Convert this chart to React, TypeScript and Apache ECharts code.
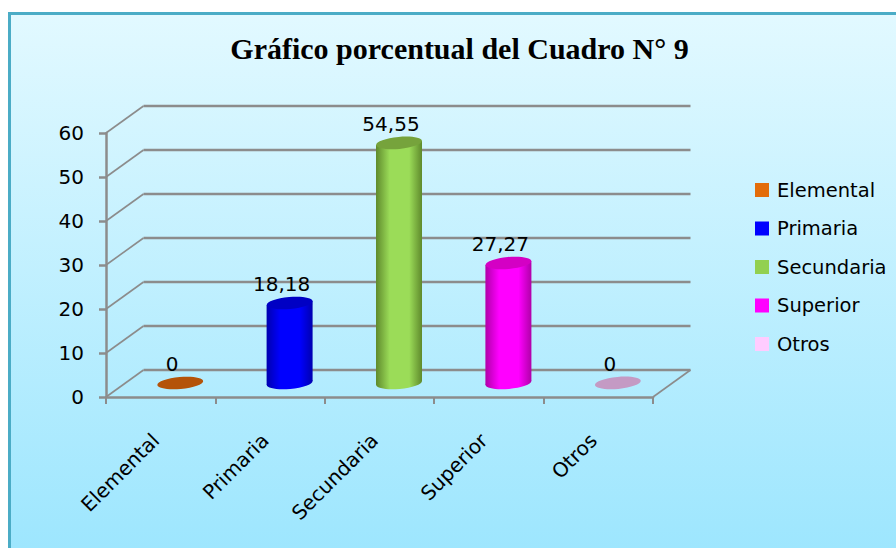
import React, { useEffect, useRef } from "react";
import * as echarts from "echarts";

const titleText = "Gráfico porcentual del Cuadro N° 9";
const categories = ["Elemental", "Primaria", "Secundaria", "Superior", "Otros"];
const values = [0, 18.18, 54.55, 27.27, 0];
const yTicks = [0, 10, 20, 30, 40, 50, 60];
const swatchColors = ["#e36c09", "#0000ff", "#92d050", "#ff00ff", "#ffccff"];
const bodyColors = ["#e36c09", "#0000ff", "#9bdc58", "#ff00ff", "#ffccff"];
const topColors = ["#b45309", "#0000c4", "#76a33c", "#d400c4", "#c49ac4"];
const edgeColors = ["#b45309", "#0000b0", "#5f8a2c", "#b000a8", "#c49ac4"];

const FONT = "'DejaVu Sans'";
const DX = 37.5;
const DY = -27;
const CX = 19.5;
const CY = -14;
const R = 23;
const RY = 6;
const TILT = 2;

const cylinder = (i: number) => (params: any, api: any) => {
  const idx = api.value(0);
  const v = api.value(1);
  const base = api.coord([idx, 0]);
  const top = api.coord([idx, v]);
  const cx = base[0] + CX;
  const yb = base[1] + CY;
  const yt = top[1] + CY;
  const fill = new echarts.graphic.LinearGradient(0, 0, 1, 0, [
    { offset: 0, color: edgeColors[i] },
    { offset: 0.3, color: bodyColors[i] },
    { offset: 0.72, color: bodyColors[i] },
    { offset: 1, color: edgeColors[i] },
  ]);
  const children: any[] = [];
  if (v > 0) {
    children.push({
      type: "ellipse",
      shape: { cx, cy: yb, rx: R, ry: RY },
      rotation: 0.09,
      originX: cx,
      originY: yb,
      style: { fill },
    });
    children.push({
      type: "polygon",
      shape: {
        points: [
          [cx - R, yt + TILT],
          [cx + R, yt - TILT],
          [cx + R, yb - TILT],
          [cx - R, yb + TILT],
        ],
      },
      style: { fill },
    });
  }
  children.push({
    type: "ellipse",
    shape: { cx, cy: yt, rx: R, ry: RY },
    rotation: 0.09,
    originX: cx,
    originY: yt,
    style: { fill: topColors[i] },
  });
  children.push({
    type: "text",
    style: {
      x: cx - 8,
      y: yt - 19,
      text: String(v).replace(".", ","),
      fill: "#000",
      font: `20px ${FONT}`,
      align: "center",
      verticalAlign: "middle",
    },
  });
  return { type: "group", children };
};

const walls = (params: any, api: any) => {
  const v = api.value(0);
  const p = api.coord([0, v]);
  const x0 = params.coordSys.x;
  const x1 = x0 + params.coordSys.width;
  const back = { stroke: "#8c8c8c", lineWidth: 2.5, fill: "none" };
  const side = { stroke: "#8c8c8c", lineWidth: 1.6, fill: "none" };
  const children: any[] = [
    {
      type: "line",
      shape: { x1: x0, y1: p[1], x2: x0 + DX, y2: p[1] + DY },
      style: side,
    },
    {
      type: "line",
      shape: { x1: x0 + DX, y1: p[1] + DY, x2: x1 + DX, y2: p[1] + DY },
      style: back,
    },
  ];
  if (v === 0) {
    children.push({
      type: "line",
      shape: { x1, y1: p[1], x2: x1 + DX, y2: p[1] + DY },
      style: side,
    });
  }
  return { type: "group", children };
};

export default function App() {
  const ref = useRef<HTMLDivElement>(null);
  useEffect(() => {
    document.body.style.margin = "0";
    const chart = echarts.init(ref.current!, undefined, { renderer: "svg" });
    chart.setOption({
      animation: false,
      backgroundColor: "#ffffff",
      graphic: [
        {
          type: "rect",
          z: -10,
          shape: { x: 9.5, y: 13.5, width: 890, height: 540 },
          style: {
            fill: new echarts.graphic.LinearGradient(0, 0, 0, 1, [
              { offset: 0, color: "#e2f9ff" },
              { offset: 1, color: "#9de6fe" },
            ]),
            stroke: "#4bacc6",
            lineWidth: 3,
          },
        },
      ],
      title: {
        text: titleText,
        left: 454.5,
        top: 28,
        textAlign: "center",
        textStyle: {
          fontFamily: "'Liberation Serif'",
          fontWeight: "bold",
          fontSize: 30,
          color: "#000",
        },
      },
      legend: {
        left: 750,
        top: 175,
        orient: "vertical",
        icon: "rect",
        itemWidth: 14,
        itemHeight: 14,
        itemGap: 18.5,
        data: categories,
        selectedMode: false,
        textStyle: { fontFamily: FONT, fontSize: 19.5, color: "#000", padding: [0, 0, 0, 3] },
      },
      grid: { left: 106, right: 243, top: 133, bottom: 151 },
      xAxis: {
        type: "category",
        data: categories,
        axisLine: { lineStyle: { color: "#8c8c8c", width: 2.5 } },
        axisTick: { show: true, alignWithLabel: false, length: 7, lineStyle: { color: "#8c8c8c", width: 2 } },
        axisLabel: { rotate: 45, margin: 35, padding: [0, 7, 0, 0], fontFamily: FONT, fontSize: 20, color: "#000", interval: 0 },
        splitLine: { show: false },
      },
      yAxis: {
        type: "value",
        min: 0,
        max: 60,
        interval: 10,
        axisLine: { show: true, lineStyle: { color: "#8c8c8c", width: 2.5 } },
        axisTick: { show: true, length: 7, lineStyle: { color: "#8c8c8c", width: 2.5 } },
        axisLabel: { margin: 22, fontFamily: FONT, fontSize: 20, color: "#000" },
        splitLine: { show: false },
      },
      series: [
        {
          type: "custom",
          name: "walls",
          data: yTicks.map((t) => [t]),
          encode: { y: 0 },
          renderItem: walls,
          silent: true,
          z: 1,
        },
        ...categories.map((c, i) => ({
          type: "custom",
          name: c,
          data: [[i, values[i]]],
          encode: { x: 0, y: 1 },
          itemStyle: { color: swatchColors[i] },
          renderItem: cylinder(i),
          z: 3,
        })),
      ],
    });
    return () => chart.dispose();
  }, []);
  return <div ref={ref} style={{ width: 896, height: 548 }} />;
}
